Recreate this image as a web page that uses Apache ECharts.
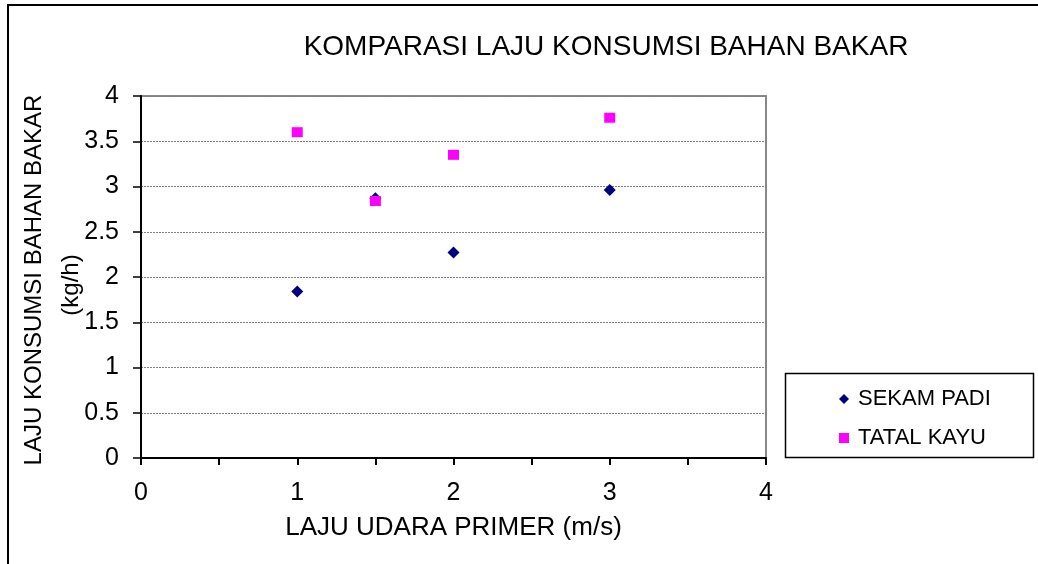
<!DOCTYPE html>
<html>
<head>
<meta charset="utf-8">
<script src="https://cdn.jsdelivr.net/npm/echarts@6/dist/echarts.min.js"></script>
<style>
html,body{margin:0;padding:0;background:#fff;}
#chart{width:1038px;height:564px;}
</style>
</head>
<body>
<div id="chart"></div>
<script>
var chartTitle = 'KOMPARASI LAJU KONSUMSI BAHAN BAKAR';
var xAxisTitle = 'LAJU UDARA PRIMER (m/s)';
var yAxisTitle1 = 'LAJU KONSUMSI BAHAN BAKAR';
var yAxisTitle2 = '(kg/h)';
var seriesNames = ['SEKAM PADI', 'TATAL KAYU'];
var xValues = [1, 1.5, 2, 3];
var sekamPadi = [1.84, 2.87, 2.27, 2.96];
var tatalKayu = [3.60, 2.84, 3.35, 3.76];

var FONT = '"Liberation Sans", Arial, sans-serif';
function pairs(xs, ys) { return xs.map(function (x, i) { return [x, ys[i]]; }); }

var chart = echarts.init(document.getElementById('chart'), null, {renderer: 'canvas'});
chart.setOption({
  animation: false,
  backgroundColor: '#fff',
  title: {
    text: chartTitle,
    left: 601,
    top: 28,
    textAlign: 'center',
    textStyle: {fontFamily: FONT, fontSize: 28, fontWeight: 'normal', color: '#000'}
  },
  grid: {
    left: 141, top: 96, right: 272, bottom: 106,
    show: true, borderColor: '#888', borderWidth: 2, backgroundColor: '#fff'
  },
  legend: {
    orient: 'vertical',
    left: 834,
    top: 383,
    itemWidth: 10,
    itemHeight: 10,
    itemGap: 17,
    data: [
      {name: seriesNames[0], icon: 'diamond'},
      {name: seriesNames[1], icon: 'rect'}
    ],
    textStyle: {fontFamily: FONT, fontSize: 22, color: '#000', padding: [0, 0, 0, 4]}
  },
  xAxis: {
    type: 'value', min: 0, max: 4, interval: 0.5,
    name: xAxisTitle, nameLocation: 'middle', nameGap: 57,
    nameTextStyle: {fontFamily: FONT, fontSize: 26, color: '#000'},
    axisLine: {show: true, onZero: false, lineStyle: {color: '#000', width: 2}},
    axisTick: {show: true, inside: false, length: 7, lineStyle: {color: '#000', width: 2}},
    axisLabel: {
      margin: 23, fontFamily: FONT, fontSize: 25, color: '#000',
      formatter: function (v) { return Math.abs(v - Math.round(v)) < 1e-9 ? String(Math.round(v)) : ''; }
    },
    splitLine: {show: false}
  },
  yAxis: {
    type: 'value', min: 0, max: 4, interval: 0.5,
    axisLine: {show: true, onZero: false, lineStyle: {color: '#000', width: 2}},
    axisTick: {show: true, inside: false, length: 8, lineStyle: {color: '#000', width: 1.5}},
    axisLabel: {margin: 22, fontFamily: FONT, fontSize: 25, color: '#000'},
    splitLine: {show: true, lineStyle: {color: '#808080', width: 1, type: [2, 1]}}
  },
  graphic: [
    {
      type: 'rect', silent: true, z: -1,
      shape: {x: 8, y: 5, width: 1200, height: 800},
      style: {fill: 'none', stroke: '#000', lineWidth: 2}
    },
    {
      type: 'rect', silent: true,
      shape: {x: 785.5, y: 373.5, width: 248, height: 84},
      style: {fill: 'none', stroke: '#000', lineWidth: 1.5}
    },
    {
      type: 'text', silent: true, x: 34, y: 280, rotation: Math.PI / 2,
      style: {text: yAxisTitle1, fontFamily: FONT, fontSize: 24, fill: '#000', align: 'center', verticalAlign: 'middle'}
    },
    {
      type: 'text', silent: true, x: 71, y: 285, rotation: Math.PI / 2,
      style: {text: yAxisTitle2, fontFamily: FONT, fontSize: 24, fill: '#000', align: 'center', verticalAlign: 'middle'}
    }
  ],
  series: [
    {
      name: seriesNames[0], type: 'scatter', symbol: 'diamond', symbolSize: [12, 12],
      itemStyle: {color: '#000080', opacity: 1},
      data: pairs(xValues, sekamPadi)
    },
    {
      name: seriesNames[1], type: 'scatter', symbol: 'rect', symbolSize: [11, 10],
      itemStyle: {color: '#FF00FF', opacity: 1},
      data: pairs(xValues, tatalKayu)
    }
  ]
});
</script>
</body>
</html>
